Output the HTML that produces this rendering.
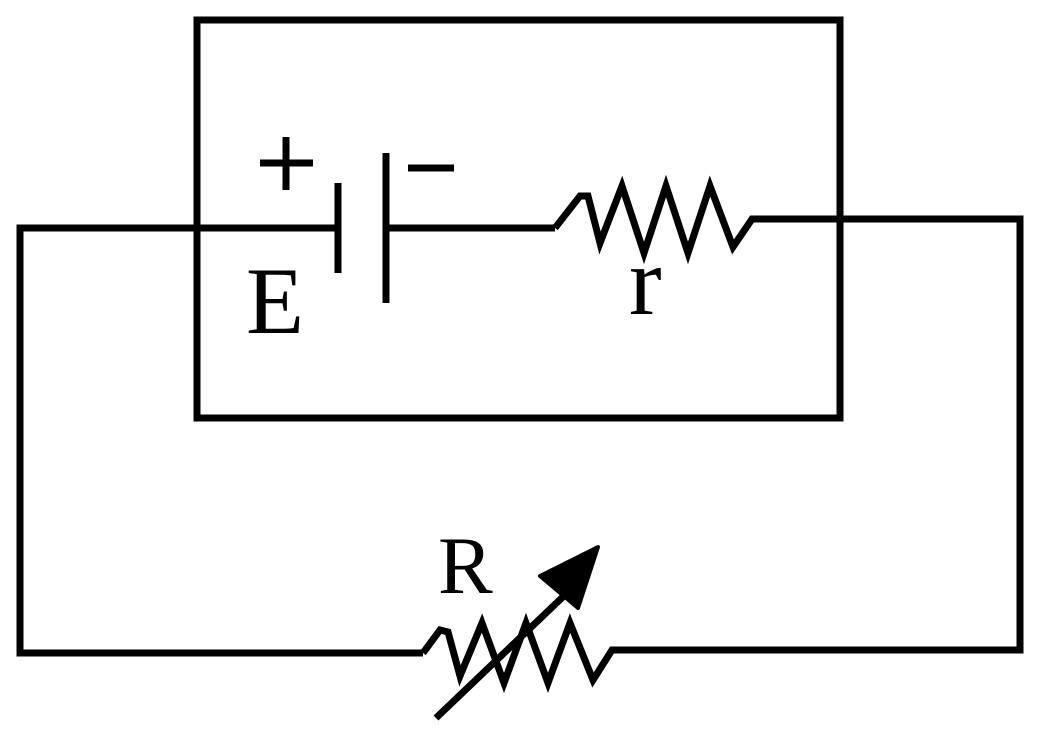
<!DOCTYPE html>
<html><head><style>
html,body{margin:0;padding:0;background:#fff;}
svg{display:block;}
text{font-family:"Liberation Serif","Times New Roman",Times,serif;}
</style></head><body>
<svg width="1042" height="741" viewBox="0 0 1042 741" xmlns="http://www.w3.org/2000/svg">
<g stroke="#000" stroke-width="7" fill="none" stroke-linecap="butt" stroke-linejoin="miter">
<rect x="197" y="20" width="643" height="398"/>
<polyline points="335,228 20,228 20,653 423,653"/>
<line x1="338" y1="183" x2="338" y2="273"/>
<line x1="386" y1="153" x2="386" y2="303"/>
<line x1="386" y1="228" x2="555" y2="228"/>
<polyline points="555,228 580,196 588,196 600,243 622,186 644,253 666,186 688,253 710,186 733,247 752,219 1020,219 1020,650 612,650 593,680 570,623 548,683 526,623 504,683 482,623 460,676 448,632 440,630 423,653"/>
<line x1="260" y1="163" x2="313" y2="163"/>
<line x1="286" y1="137" x2="286" y2="190"/>
<line x1="408" y1="168" x2="454" y2="168"/>
<line x1="436" y1="718" x2="568" y2="592"/>
</g>
<polygon points="598,547 540,576 578,608" fill="#000" stroke="#000" stroke-width="4" stroke-linejoin="round"/>
<g fill="#000">
<text x="246" y="333" font-size="95">E</text>
<text x="629" y="314" font-size="98">r</text>
<text x="438" y="593" font-size="82">R</text>
</g>
</svg>
</body></html>
